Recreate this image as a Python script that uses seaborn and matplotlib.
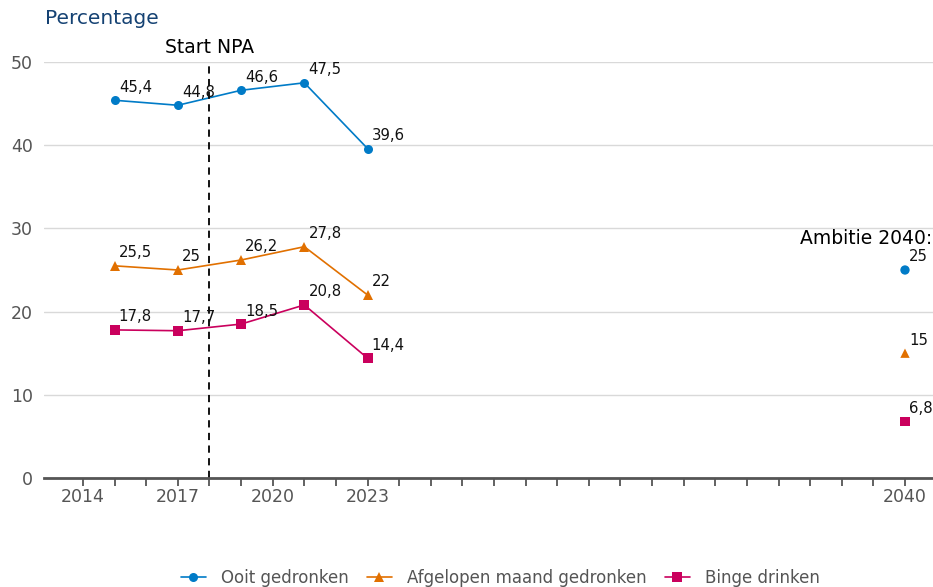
import seaborn as sns
import matplotlib.pyplot as plt
import pandas as pd

# data
jaren = [2015, 2017, 2019, 2021, 2023]
ooit = [45.4, 44.8, 46.6, 47.5, 39.6]
maand = [25.5, 25.0, 26.2, 27.8, 22.0]
binge = [17.8, 17.7, 18.5, 20.8, 14.4]
reeksen = ['Ooit gedronken', 'Afgelopen maand gedronken', 'Binge drinken']
ambitie_jaar = 2040
ambitie = [25, 15, 6.8]
start_npa = 2018
tick_labels = {2014: '2014', 2017: '2017', 2020: '2020', 2023: '2023', 2040: '2040'}

kleuren = ['#007bc7', '#e17000', '#ca005d']
markers = ['o', '^', 's']

rows = []
for naam, waarden in zip(reeksen, [ooit, maand, binge]):
    for j, w in zip(jaren, waarden):
        rows.append({'jaar': j, 'waarde': w, 'reeks': naam})
df = pd.DataFrame(rows)
df_amb = pd.DataFrame({'jaar': [ambitie_jaar] * 3, 'waarde': ambitie, 'reeks': reeksen})

sns.set_style('white')
plt.rcParams['font.family'] = ['DejaVu Sans']

fig = plt.figure(figsize=(9.33, 5.87), dpi=100)
ax = fig.add_axes([44 / 933, 1 - 478 / 587, 1 - 44 / 933, (478 - 62) / 587])

pal = dict(zip(reeksen, kleuren))
mk = dict(zip(reeksen, markers))
sns.lineplot(data=df, x='jaar', y='waarde', hue='reeks', style='reeks',
             palette=pal, markers=mk, dashes=False, hue_order=reeksen,
             style_order=reeksen, markersize=6.5, linewidth=1.2,
             markeredgewidth=0, ax=ax)
sns.scatterplot(data=df_amb, x='jaar', y='waarde', hue='reeks', style='reeks',
                palette=pal, markers=mk, hue_order=reeksen, style_order=reeksen,
                s=45, linewidth=0, legend=False, ax=ax)

def fmt(v):
    return ('%g' % v).replace('.', ',')

for d in [df, df_amb]:
    for _, r in d.iterrows():
        ax.annotate(fmt(r['waarde']), (r['jaar'], r['waarde']), xytext=(3, 4),
                    textcoords='offset points', ha='left', va='bottom',
                    fontsize=10.7, color='#111111')

ax.axvline(start_npa, ymin=0, ymax=1, color='black', ls=(0, (4, 3)), lw=1.3)
ax.text(start_npa, 50.6, 'Start NPA', ha='center', va='bottom', fontsize=13.5,
        color='black', clip_on=False)
ax.text(2040.85, 27.7, 'Ambitie 2040:', ha='right', va='bottom', fontsize=13.5,
        color='black')

ax.set_xlim(2012.766, 2040.886)
ax.set_ylim(0, 50)
ax.set_xticks(range(2014, 2041))
ax.set_xticklabels([tick_labels.get(j, '') for j in range(2014, 2041)])
ax.set_yticks([0, 10, 20, 30, 40, 50])
ax.yaxis.grid(True, color='#d9d9d9', lw=1)
ax.set_axisbelow(True)
ax.tick_params(axis='x', length=6, width=1.3, color='#555555', labelsize=12.5,
               labelcolor='#555555', pad=1.5, bottom=True)
ax.tick_params(axis='y', length=0, labelsize=12.5, labelcolor='#555555', pad=8)
for s in ['left', 'right', 'top']:
    ax.spines[s].set_visible(False)
ax.spines['bottom'].set_color('#555555')
ax.spines['bottom'].set_linewidth(2)
ax.set_xlabel('')
ax.set_ylabel('')

fig.text(45 / 933, 1 - 18 / 587, 'Percentage', ha='left', va='center',
         fontsize=14.5, color='#154273')

h, l = ax.get_legend_handles_labels()
ax.legend(h, l, loc='center', bbox_to_anchor=(0.513, -(578 - 478) / 416),
          ncol=3, frameon=False, fontsize=12, labelcolor='#555555',
          handlelength=1.5, columnspacing=1.1, handletextpad=0.9)

fig.savefig('out.png', dpi=100)
